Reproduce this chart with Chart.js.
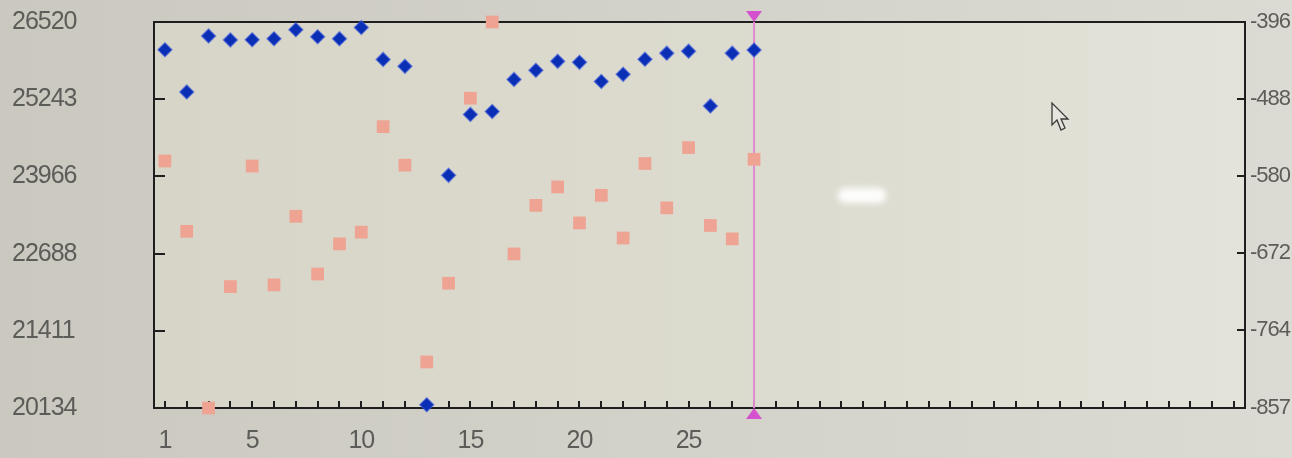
<!DOCTYPE html>
<html>
<head>
<meta charset="utf-8">
<script src="https://cdn.jsdelivr.net/npm/chart.js@4/dist/chart.umd.min.js"></script>
<style>
  html, body { margin: 0; padding: 0; background: #cfcdc4; }
  #wrap { width: 1292px; height: 458px; position: relative; }
</style>
</head>
<body>
<div id="wrap"><canvas id="c" width="1292" height="458"></canvas></div>
<script>
// Sample positions along the bottom axis
const categories = ['1','2','3','4','5','6','7','8','9','10',
  '11','12','13','14','15','16','17','18','19','20',
  '21','22','23','24','25','26','27','28','29','30',
  '31','32','33','34','35','36','37','38','39','40',
  '41','42','43','44','45','46','47','48','49','50'];
const xTickLabels = ['1','5','10','15','20','25'];

// Blue diamonds, left axis
const blueValues = [26061, 25363, 26290, 26224, 26226, 26243, 26391, 26277, 26244, 26428,
  25901, 25786, 20187, 23983, 24991, 25040, 25570, 25720, 25869, 25853,
  25535, 25654, 25904, 26005, 26038, 25132, 26005, 26056];

// Pink squares, right axis
const pinkValues = [-562, -646, -857, -712, -568, -710, -628, -697, -661, -647,
  -521, -567, -802, -708, -487, -396, -673, -615, -593, -636,
  -603, -654, -565, -618, -546, -639, -655, -560];

const leftTicks = [20134, 21411, 22688, 23966, 25243, 26520];
const rightTicks = [-857, -764, -672, -580, -488, -396];

// Position of the vertical cursor
const cursorCategory = '28';

const labelFont = "'Liberation Sans', Arial, sans-serif";
const labelColor = '#5c5c58';

// tighter spacing for the axis digits
function tightenText(chart) { chart.ctx.letterSpacing = '-1px'; }

const framePlugin = {
  id: 'frame',
  beforeLayout: tightenText,
  beforeDraw(chart) {
    tightenText(chart);
    const { ctx, chartArea: a, width, height } = chart;
    ctx.save();
    const bg = ctx.createLinearGradient(0, 0, width, 0);
    bg.addColorStop(0, '#cac8bf');
    bg.addColorStop(1, '#dcdbd3');
    ctx.fillStyle = bg;
    ctx.fillRect(0, 0, width, height);
    const pg = ctx.createLinearGradient(a.left, 0, a.right, 0);
    pg.addColorStop(0, '#d7d5c7');
    pg.addColorStop(0.6, '#dddcd0');
    pg.addColorStop(1, '#e3e3da');
    ctx.fillStyle = pg;
    ctx.fillRect(a.left, a.top, a.right - a.left, a.bottom - a.top);
    ctx.restore();
  },
  beforeDatasetsDraw(chart) {
    const { ctx, chartArea: a, scales } = chart;
    ctx.save();
    ctx.strokeStyle = '#1e1e1e';
    ctx.lineWidth = 2;
    ctx.strokeRect(a.left, a.top, a.right - a.left, a.bottom - a.top);
    ctx.beginPath();
    // inward tick marks on the bottom axis, one per category
    categories.forEach((c, i) => {
      const x = Math.round(scales.x.getPixelForValue(i));
      ctx.moveTo(x, a.bottom);
      ctx.lineTo(x, a.bottom - 7);
    });
    // inward tick marks on both value axes
    leftTicks.slice(1, -1).forEach(v => {
      const y = Math.round(scales.yL.getPixelForValue(v));
      ctx.moveTo(a.left, y);
      ctx.lineTo(a.left + 11, y);
    });
    rightTicks.slice(1, -1).forEach(v => {
      const y = Math.round(scales.yR.getPixelForValue(v));
      ctx.moveTo(a.right, y);
      ctx.lineTo(a.right - 8, y);
    });
    ctx.stroke();

    // cursor line
    const cx = scales.x.getPixelForValue(categories.indexOf(cursorCategory));
    ctx.strokeStyle = '#e189cf';
    ctx.lineWidth = 2;
    ctx.beginPath();
    ctx.moveTo(cx, a.top);
    ctx.lineTo(cx, a.bottom);
    ctx.stroke();
    ctx.restore();
  },
  afterDraw(chart) {
    const { ctx, chartArea: a, scales } = chart;
    const cx = scales.x.getPixelForValue(categories.indexOf(cursorCategory));
    ctx.save();
    ctx.fillStyle = '#d552cf';
    ctx.beginPath();
    ctx.moveTo(cx - 8, a.top - 11);
    ctx.lineTo(cx + 8, a.top - 11);
    ctx.lineTo(cx, a.top);
    ctx.closePath();
    ctx.fill();
    ctx.beginPath();
    ctx.moveTo(cx - 8, a.bottom + 11);
    ctx.lineTo(cx + 8, a.bottom + 11);
    ctx.lineTo(cx, a.bottom);
    ctx.closePath();
    ctx.fill();

    // screen glare
    ctx.filter = 'blur(3px)';
    ctx.fillStyle = 'rgba(255,255,255,0.95)';
    ctx.beginPath();
    ctx.roundRect(838, 188, 48, 15, 7);
    ctx.fill();
    ctx.filter = 'none';

    // mouse pointer
    ctx.translate(1052, 103);
    ctx.beginPath();
    ctx.moveTo(0, 0);
    ctx.lineTo(0, 22);
    ctx.lineTo(5, 17);
    ctx.lineTo(9, 27);
    ctx.lineTo(13, 25);
    ctx.lineTo(9, 16);
    ctx.lineTo(16, 16);
    ctx.closePath();
    ctx.fillStyle = '#e6e5de';
    ctx.fill();
    ctx.strokeStyle = '#3a3a38';
    ctx.lineWidth = 1.3;
    ctx.stroke();
    ctx.restore();
  }
};

new Chart(document.getElementById('c'), {
  type: 'line',
  data: {
    labels: categories,
    datasets: [
      {
        label: 'blue',
        data: blueValues,
        yAxisID: 'yL',
        showLine: false,
        pointStyle: 'rectRot',
        pointRadius: 7,
        backgroundColor: '#0a2fb4',
        borderColor: 'rgba(60,90,220,0.55)',
        pointBorderWidth: 1.5,
        clip: false
      },
      {
        label: 'pink',
        data: pinkValues,
        yAxisID: 'yR',
        showLine: false,
        pointStyle: 'rect',
        pointRadius: 9,
        backgroundColor: '#eea393',
        borderColor: '#eea393',
        pointBorderWidth: 0,
        clip: false
      }
    ]
  },
  options: {
    responsive: false,
    animation: false,
    events: [],
    layout: { padding: { top: 22, right: 0, left: 12, bottom: 0 } },
    plugins: { legend: { display: false }, tooltip: { enabled: false } },
    scales: {
      x: {
        type: 'category',
        offset: true,
        grid: { display: false, drawTicks: false },
        border: { display: false },
        ticks: {
          autoSkip: false,
          maxRotation: 0,
          padding: 18,
          color: labelColor,
          font: { family: labelFont, size: 25 },
          callback: function (val) {
            const l = this.getLabelForValue(val);
            return xTickLabels.includes(l) ? l : '';
          }
        },
        afterFit(s) { s.height = 50; }
      },
      yL: {
        position: 'left',
        min: leftTicks[0],
        max: leftTicks[leftTicks.length - 1],
        grid: { display: false, drawTicks: false },
        border: { display: false },
        afterBuildTicks(s) { s.ticks = leftTicks.map(v => ({ value: v })); },
        ticks: {
          padding: 2,
          crossAlign: 'far',
          color: labelColor,
          font: { family: labelFont, size: 25 },
          callback: v => String(v)
        },
        afterFit(s) { s.width = 142; }
      },
      yR: {
        position: 'right',
        min: rightTicks[0],
        max: rightTicks[rightTicks.length - 1],
        grid: { display: false, drawTicks: false },
        border: { display: false },
        afterBuildTicks(s) { s.ticks = rightTicks.map(v => ({ value: v })); },
        ticks: {
          padding: 5,
          color: labelColor,
          font: { family: labelFont, size: 22 },
          callback: v => String(v)
        },
        afterFit(s) { s.width = 47; }
      }
    }
  },
  plugins: [framePlugin]
});
</script>
</body>
</html>
